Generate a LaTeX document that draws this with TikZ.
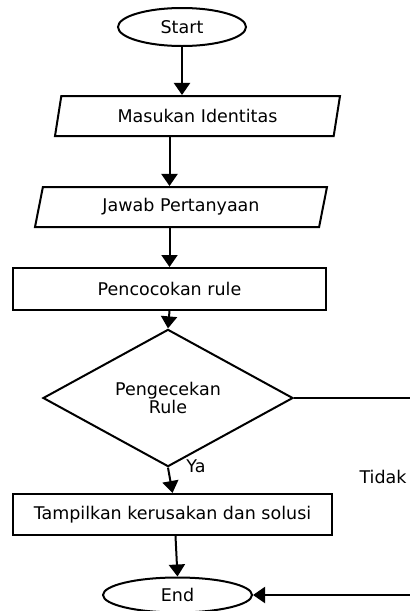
\documentclass[tikz,border=0pt]{standalone}
\usepackage{fontspec}
\setmainfont{DejaVu Sans}
\usepackage{tikz}
\usetikzlibrary{arrows.meta,shapes.geometric}
\tikzstyle{terminal}=[ellipse,draw,line width=2pt,minimum width=128pt,minimum height=38pt,inner sep=0pt]
\tikzstyle{io}=[trapezium,trapezium left angle=65,trapezium right angle=115,trapezium stretches body,draw,line width=2pt,minimum height=40pt,inner sep=0pt]
\tikzstyle{process}=[rectangle,draw,line width=2pt,minimum height=42pt,inner sep=0pt]
\tikzstyle{decision}=[diamond,draw,line width=2pt,minimum width=250pt,minimum height=109pt,inner sep=0pt,align=center]
\tikzstyle{edge} = [draw,line width=2pt,-{Triangle[length=12pt,width=16pt]}]
\tikzstyle{line} = [draw,line width=2pt,-]

\begin{document}
\begin{tikzpicture}[x=1pt,y=-1pt,font=\fontsize{17.5}{18}\selectfont]
                    \node[terminal] (0) at (182,27) {Start};
                    \node[io,minimum width=285pt] (1) at (197.5,116) {Masukan Identitas};
                    \node[io,minimum width=292pt] (2) at (181,207) {Jawab Pertanyaan};
                    \node[process,minimum width=313pt] (3) at (169.5,289) {Pencocokan rule};
                    \node[decision] (4) at (168,398) {Pengecekan\\Rule};
                    \node[process,minimum width=319pt,minimum height=41pt] (5) at (172.5,514.5) {Tampilkan kerusakan dan solusi};
                    \node[terminal,minimum width=149pt,minimum height=35pt] (6) at (177.5,595) {End};
                    \node (7) at (196,466) {Ya};
                    \node (8) at (383,477) {Tidak};
                    \coordinate (9) at (412,399);

                    \path[edge] (0.south) -- (0.south |- 1.north);
                    \path[edge] (1.south -| 3.north) -- (2.north -| 3.north);
                    \path[edge] (2.south -| 3.north) -- (3.north);
                    \path[edge] (3.south) -- (4.north);
                    \path[edge] (4.south) -- (5.north);
                    \path[edge] ([xshift=3pt]5.south) -- (6.north);
                    \path[line] (4.east) -- (4.east -| 9);
                    \path[edge] (6.east -| 9) -- (6.east);

                    \pgfresetboundingbox
                    \path [use as bounding box] (0,0) rectangle (410,611);
                \end{tikzpicture}
\end{document}
